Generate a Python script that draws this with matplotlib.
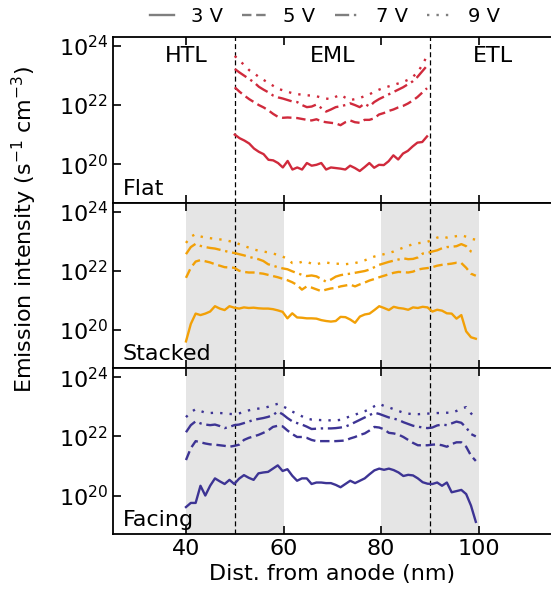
import numpy as np
import matplotlib
matplotlib.use("Agg")
import matplotlib.pyplot as plt
from matplotlib.lines import Line2D

# log10 of emission intensity (s^-1 cm^-3) along the device, 1 nm grid
x_flat = np.linspace(50, 89.4, 41)
x_full = np.linspace(40, 99.4, 61)

flat_3v = [21.0, 20.88, 20.8, 20.7, 20.53, 20.42, 20.34, 20.15, 20.13, 20.04,
           19.89, 20.11, 19.82, 19.89, 19.82, 20.04, 19.95, 19.98, 20.04, 19.82,
           19.89, 19.87, 19.85, 19.82, 19.95, 19.87, 19.77, 19.9, 20.04, 19.88,
           19.98, 19.97, 20.1, 20.3, 20.16, 20.36, 20.45, 20.6, 20.73, 20.75, 20.94]
flat_5v = [22.6, 22.45, 22.32, 22.2, 22.1, 22.0, 21.92, 21.82, 21.7, 21.6,
           21.57, 21.58, 21.57, 21.56, 21.53, 21.5, 21.48, 21.52, 21.45, 21.42,
           21.4, 21.38, 21.32, 21.42, 21.48, 21.42, 21.4, 21.5, 21.5, 21.55,
           21.68, 21.73, 21.8, 21.85, 21.92, 21.97, 22.05, 22.15, 22.27, 22.42, 22.57]
flat_7v = [23.22, 23.1, 22.99, 22.88, 22.77, 22.62, 22.52, 22.43, 22.32, 22.26,
           22.22, 22.17, 22.12, 22.1, 22.0, 21.93, 21.95, 22.02, 21.9, 21.78,
           21.85, 21.93, 21.96, 22.0, 22.06, 22.0, 21.93, 22.05, 21.95, 22.1,
           22.2, 22.28, 22.36, 22.44, 22.52, 22.6, 22.7, 22.8, 22.95, 23.14, 23.33]
flat_9v = [23.66, 23.5, 23.35, 23.18, 23.08, 22.95, 22.85, 22.75, 22.65, 22.55,
           22.5, 22.45, 22.4, 22.37, 22.35, 22.33, 22.32, 22.3, 22.25, 22.22,
           22.2, 22.28, 22.35, 22.25, 22.17, 22.2, 22.24, 22.3, 22.36, 22.45,
           22.52, 22.58, 22.63, 22.68, 22.73, 22.78, 22.85, 22.95, 23.1, 23.35, 23.66]

stacked_3v = [19.61, 20.2, 20.55, 20.5, 20.55, 20.62, 20.8, 20.72, 20.67, 20.8,
              20.75, 20.72, 20.76, 20.74, 20.75, 20.73, 20.72, 20.72, 20.7, 20.66,
              20.61, 20.39, 20.56, 20.42, 20.41, 20.39, 20.39, 20.38, 20.33, 20.3,
              20.28, 20.3, 20.44, 20.43, 20.35, 20.24, 20.45, 20.52, 20.55, 20.67,
              20.8, 20.74, 20.67, 20.78, 20.74, 20.72, 20.68, 20.76, 20.74, 20.78,
              20.76, 20.62, 20.68, 20.65, 20.56, 20.55, 20.38, 20.5, 19.95, 19.75, 19.7]
stacked_5v = [21.76, 22.1, 22.31, 22.36, 22.32, 22.28, 22.22, 22.17, 22.12, 22.11,
              22.1, 22.0, 21.96, 21.94, 21.94, 21.92, 21.9, 21.86, 21.82, 21.78,
              21.73, 21.68, 21.61, 21.52, 21.36, 21.47, 21.43, 21.37, 21.31, 21.36,
              21.4, 21.42, 21.47, 21.5, 21.53, 21.47, 21.54, 21.6, 21.67, 21.72,
              21.78, 21.83, 21.88, 21.93, 21.96, 21.95, 21.94, 21.97, 22.04, 22.07,
              22.09, 22.12, 22.17, 22.2, 22.22, 22.24, 22.27, 22.26, 22.1, 21.9, 21.83]
stacked_7v = [22.56, 22.8, 22.91, 22.84, 22.8, 22.77, 22.75, 22.71, 22.67, 22.63,
              22.6, 22.56, 22.52, 22.47, 22.43, 22.39, 22.33, 22.22, 22.17, 22.12,
              22.08, 22.05, 21.98, 21.92, 21.86, 21.82, 21.84, 21.81, 21.72, 21.63,
              21.7, 21.8, 21.85, 21.88, 21.9, 21.93, 21.96, 21.99, 22.04, 22.12,
              22.2, 22.25, 22.3, 22.34, 22.38, 22.42, 22.39, 22.4, 22.45, 22.58,
              22.6, 22.65, 22.69, 22.76, 22.8, 22.81, 22.83, 22.9, 22.83, 22.65, 22.58]
stacked_9v = [22.94, 23.15, 23.24, 23.16, 23.12, 23.1, 23.08, 23.06, 23.04, 23.0,
              22.97, 22.9, 22.84, 22.78, 22.72, 22.68, 22.65, 22.62, 22.58, 22.54,
              22.48, 22.4, 22.26, 22.25, 22.3, 22.3, 22.24, 22.22, 22.26, 22.28,
              22.25, 22.24, 22.23, 22.22, 22.24, 22.26, 22.3, 22.35, 22.42, 22.48,
              22.52, 22.56, 22.6, 22.65, 22.72, 22.78, 22.84, 22.9, 22.93, 22.95,
              22.98, 23.04, 23.12, 23.16, 23.12, 23.14, 23.17, 23.2, 23.15, 23.08, 23.05]

facing_3v = [19.61, 19.75, 19.75, 20.33, 20.0, 20.33, 20.58, 20.48, 20.39, 20.53,
             20.39, 20.57, 20.69, 20.6, 20.53, 20.75, 20.78, 20.8, 20.91, 21.02,
             20.83, 20.89, 20.67, 20.5, 20.58, 20.58, 20.39, 20.44, 20.44, 20.42,
             20.42, 20.36, 20.28, 20.39, 20.5, 20.42, 20.5, 20.58, 20.72, 20.85,
             20.91, 20.87, 20.91, 20.86, 20.78, 20.66, 20.7, 20.68, 20.58, 20.45,
             20.4, 20.39, 20.44, 20.33, 20.44, 20.11, 20.15, 20.19, 20.05, 19.66, 19.11]
facing_5v = [21.2, 21.6, 21.84, 21.8, 21.76, 21.73, 21.72, 21.7, 21.68, 21.65,
             21.68, 21.72, 21.88, 21.95, 22.0, 22.05, 22.12, 22.2, 22.32, 22.36,
             22.34, 22.2, 22.08, 21.98, 21.98, 21.95, 21.88, 21.84, 21.84, 21.84,
             21.84, 21.84, 21.85, 21.86, 21.93, 21.98, 22.05, 22.1, 22.2, 22.32,
             22.3, 22.24, 22.12, 22.1, 22.06, 21.98, 21.88, 21.78, 21.7, 21.7,
             21.7, 21.72, 21.73, 21.7, 21.65, 21.74, 21.8, 21.8, 21.65, 21.35, 21.17]
facing_7v = [22.14, 22.38, 22.51, 22.44, 22.4, 22.38, 22.4, 22.35, 22.28, 22.32,
             22.38, 22.4, 22.45, 22.5, 22.56, 22.59, 22.62, 22.66, 22.72, 22.84,
             22.75, 22.62, 22.51, 22.45, 22.4, 22.33, 22.25, 22.26, 22.27, 22.27,
             22.27, 22.28, 22.3, 22.33, 22.4, 22.48, 22.56, 22.64, 22.72, 22.8,
             22.76, 22.7, 22.64, 22.6, 22.56, 22.48, 22.42, 22.36, 22.33, 22.3,
             22.28, 22.3, 22.37, 22.4, 22.38, 22.44, 22.5, 22.46, 22.3, 22.08, 22.0]
facing_9v = [22.65, 22.82, 22.92, 22.86, 22.8, 22.79, 22.8, 22.79, 22.78, 22.76,
             22.75, 22.78, 22.82, 22.88, 22.92, 22.94, 22.96, 23.0, 23.06, 23.1,
             23.02, 22.94, 22.84, 22.76, 22.68, 22.6, 22.57, 22.56, 22.55, 22.55,
             22.54, 22.54, 22.56, 22.62, 22.68, 22.73, 22.8, 22.85, 22.92, 23.02,
             23.1, 23.03, 22.98, 22.92, 22.86, 22.8, 22.77, 22.75, 22.75, 22.76,
             22.77, 22.78, 22.79, 22.79, 22.8, 22.8, 22.86, 22.94, 22.99, 22.78, 22.6]

voltages = ["3 V", "5 V", "7 V", "9 V"]
styles = ["-", (0, (4, 2)), (0, (6, 2, 1, 2)), (0, (1, 3))]
layers = ["HTL", "EML", "ETL"]
layer_x = [40, 70, 103]

panels = [
    ("Flat", "#d02a3c", x_flat, [flat_3v, flat_5v, flat_7v, flat_9v], False),
    ("Stacked", "#f2a007", x_full, [stacked_3v, stacked_5v, stacked_7v, stacked_9v], True),
    ("Facing", "#3d3494", x_full, [facing_3v, facing_5v, facing_7v, facing_9v], True),
]

FS = 16
plt.rcParams["font.family"] = "DejaVu Sans"
plt.rcParams["font.size"] = FS

fig = plt.figure(figsize=(5.51, 5.99), dpi=100)
gs = fig.add_gridspec(3, 1, left=0.2047, right=1.0017, bottom=0.1085,
                      top=0.9382, hspace=0)
axes = [fig.add_subplot(gs[i]) for i in range(3)]

for ax, (name, color, x, series, shaded) in zip(axes, panels):
    if shaded:
        ax.axvspan(40, 60, color="#e5e5e5", lw=0, zorder=0)
        ax.axvspan(80, 100, color="#e5e5e5", lw=0, zorder=0)
    for vals, ls in zip(series, styles):
        ax.plot(x, 10 ** np.array(vals), color=color, ls=ls, lw=1.7, zorder=3)
    for xv in (50, 90):
        ax.axvline(xv, color="black", ls=(0, (4, 2.5)), lw=0.9, zorder=2)
    ax.set_yscale("log")
    ax.set_ylim(5e18, 2e24)
    ax.set_xlim(25, 115)
    ax.set_yticks([1e20, 1e22, 1e24])
    ax.yaxis.set_minor_locator(matplotlib.ticker.NullLocator())
    ax.set_xticks([40, 60, 80, 100])
    ax.tick_params(direction="in", top=True, bottom=True, length=6, width=1.2,
                   labelsize=FS)
    for sp in ax.spines.values():
        sp.set_linewidth(1.3)
    ax.text(0.022, 0.025, name, transform=ax.transAxes, ha="left", va="bottom",
            fontsize=FS)
    if ax is not axes[-1]:
        ax.tick_params(labelbottom=False)

for lbl, xv in zip(layers, layer_x):
    axes[0].text(xv, 0.885, lbl, transform=axes[0].get_xaxis_transform(),
                 ha="center", va="center", fontsize=FS)

axes[-1].set_xlabel("Dist. from anode (nm)", fontsize=FS)
fig.text(0.044, 0.617, "Emission intensity (s$^{-1}$ cm$^{-3}$)", rotation=90,
         ha="center", va="center", fontsize=FS)

handles = [Line2D([], [], color="#7f7f7f", ls=ls, lw=1.7) for ls in styles]
fig.legend(handles, voltages, loc="center", bbox_to_anchor=(0.59, 0.973),
           ncol=4, frameon=False, handlelength=1.25, handletextpad=0.85,
           columnspacing=1.0, fontsize=14)

fig.savefig("out.png", dpi=100)
